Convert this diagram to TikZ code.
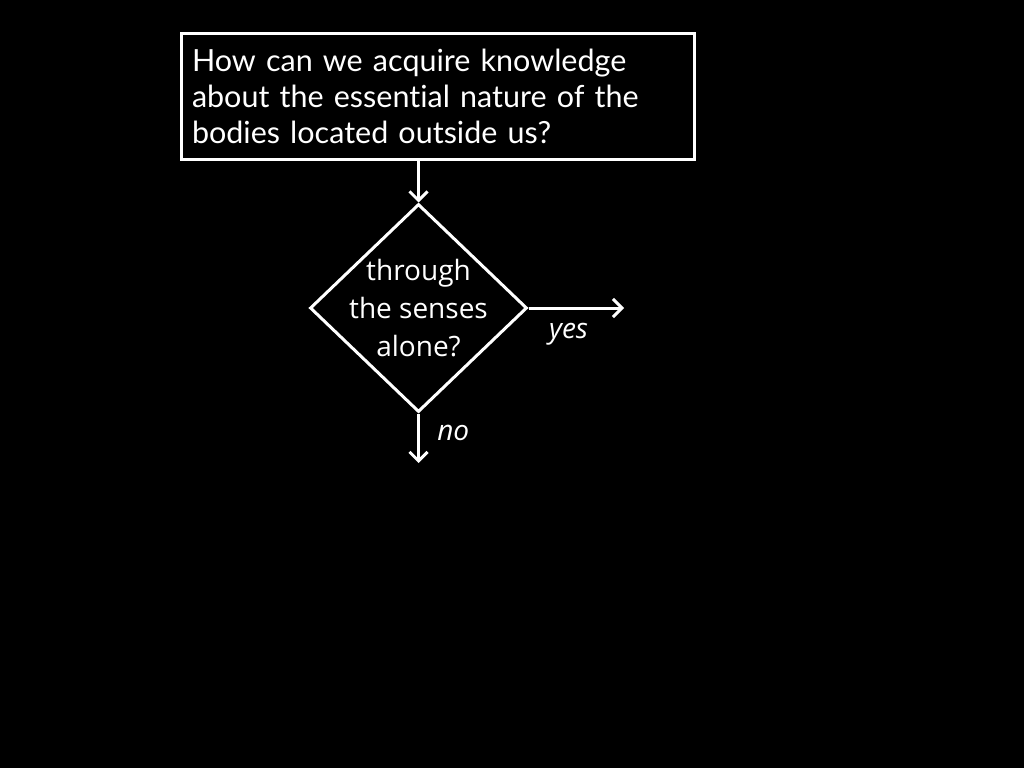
\documentclass[tikz,border=0pt]{standalone}
\usepackage{fontspec}
\setmainfont{Lato}[Ligatures=NoCommon]
\newfontfamily\decfont{Open Sans}
\usetikzlibrary{shapes,arrows.meta,positioning}
\tikzstyle{l3}=[line width=3pt]
\tikzstyle{qbox}=[rectangle, draw=white, l3, text=white, align=left, minimum width=513pt, minimum height=125pt, text width=491pt, inner xsep=11pt, font=\fontsize{30.5}{36}\selectfont]
\tikzstyle{dec}=[diamond, draw=white, l3, minimum width=217pt, minimum height=208pt, inner sep=0pt]
\tikzstyle{dtext}=[text=white, align=center, inner sep=0pt, font=\decfont\fontsize{28}{38}\selectfont]
\tikzstyle{arr}=[l3, draw=white, -{Straight Barb[length=9pt,width=18pt,line width=3pt]}]
\tikzstyle{ans}=[text=white, font=\decfont\itshape\fontsize{28}{30}\selectfont]

\begin{document}
\begin{tikzpicture}[x=1pt, y=-1pt]
    \fill[black] (0,0) rectangle (1024,768);
    \useasboundingbox (0,0) rectangle (1024,768);

    \node[qbox] at (437.5, 96.5) (q) {How can we acquire knowledge\\about the essential nature of the\\bodies located outside us?};

    \node[dec] at (418.5, 308) (dq) {};
    \node[dtext] at (dq) (dqt) {through\\the senses\\alone?};

    \coordinate (yesend) at (624, 308);
    \coordinate (noend) at (418.5, 463);

    \draw[arr] (q.south -| dq.north) -- (dq.north);
    \draw[arr] (dq.east) -- (yesend) node[ans, pos=0.42, below=10pt] (yes) {yes};
    \draw[arr] (dq.south) -- (noend) node[ans, pos=0.4, right=14pt] (no) {no};
\end{tikzpicture}
\end{document}
